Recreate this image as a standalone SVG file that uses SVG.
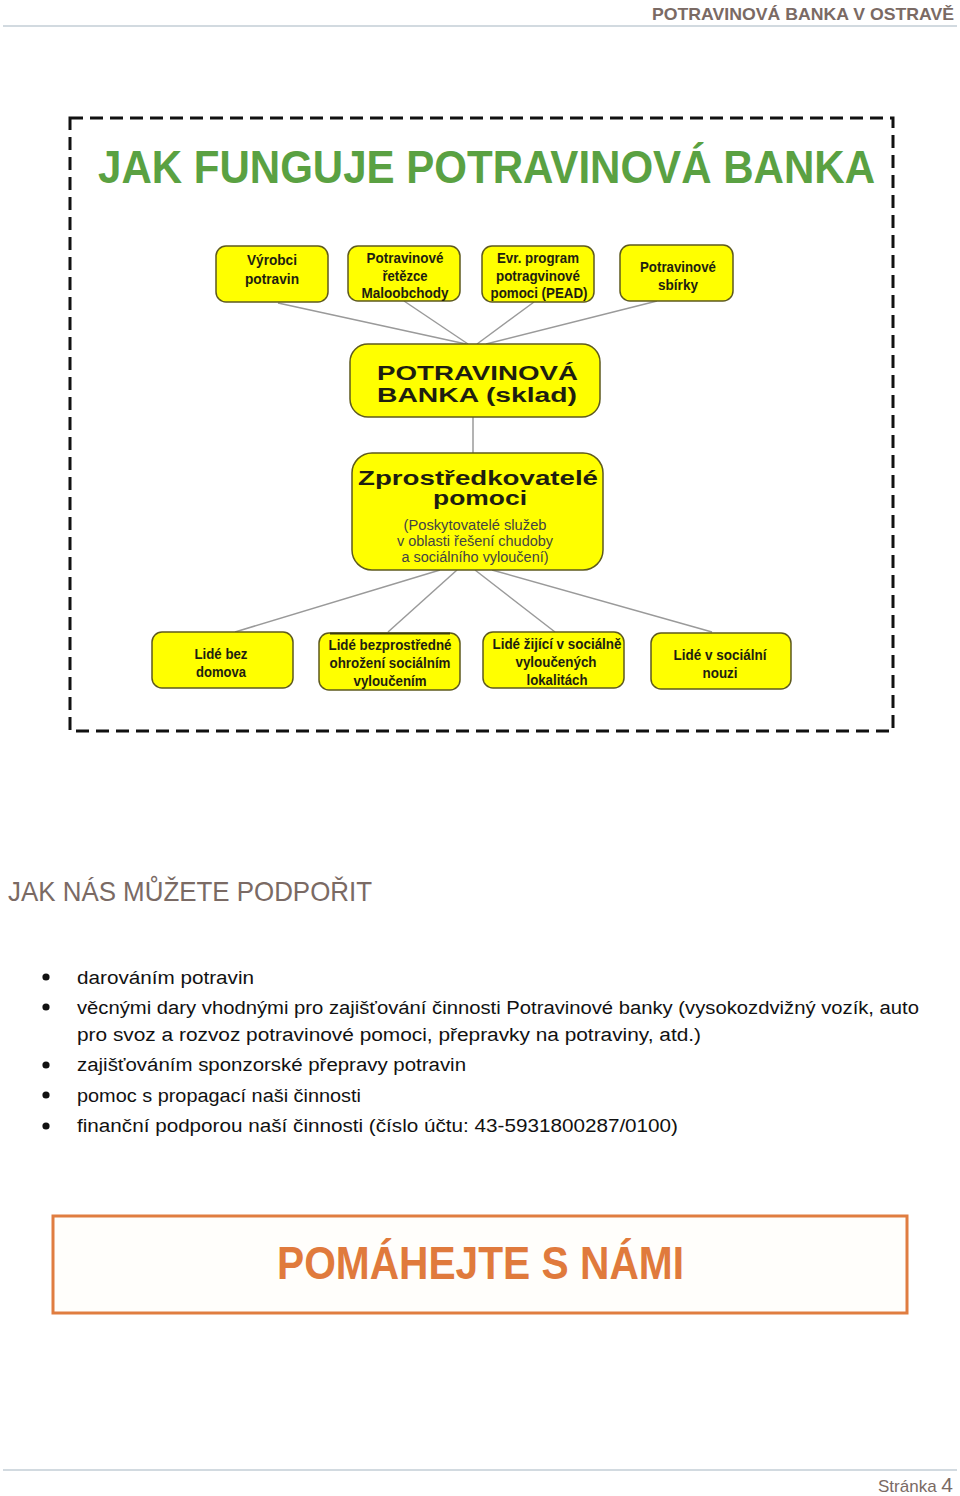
<svg xmlns="http://www.w3.org/2000/svg" width="960" height="1496" viewBox="0 0 960 1496">
<style>
.hdr{font-family:"Liberation Sans",Arial,sans-serif;fill:#7a6a64}
.box{fill:#ffff00;stroke:#5e5a1e;stroke-width:1.5}
.bt{font-family:"Liberation Sans",Arial,sans-serif;font-weight:bold;font-size:15px;fill:#1e1e10;text-anchor:middle}
.big{font-family:"Liberation Sans",Arial,sans-serif;font-weight:bold;font-size:20px;fill:#1e1e10}
.sub{font-family:"Liberation Sans",Arial,sans-serif;font-size:14px;fill:#444;text-anchor:middle}
.conn line{stroke:#9a9a9a;stroke-width:1.5}
.li{font-family:"Liberation Sans",Arial,sans-serif;font-size:18px;fill:#111}
</style>
<rect width="960" height="1496" fill="#ffffff"/>
<g id="header">
<text class="hdr" x="954" y="20" font-size="17" font-weight="bold" text-anchor="end" textLength="302" lengthAdjust="spacingAndGlyphs">POTRAVINOVÁ BANKA V OSTRAVĚ</text>
<line x1="3" y1="26" x2="957" y2="26" stroke="#c3ced6" stroke-width="1.5"/>
</g>
<g id="frame">
<rect x="70" y="118" width="823" height="613" fill="none" stroke="#111" stroke-width="3" stroke-dasharray="13 7"/>
<text x="98" y="183" font-family="Liberation Sans,Arial,sans-serif" font-weight="bold" font-size="46" fill="#5aa142" textLength="777" lengthAdjust="spacingAndGlyphs">JAK FUNGUJE POTRAVINOVÁ BANKA</text>
</g>
<g class="conn" id="connectors">
<line x1="278" y1="303" x2="466" y2="344"/>
<line x1="404" y1="301" x2="468" y2="344"/>
<line x1="534" y1="302" x2="477" y2="344"/>
<line x1="657" y1="301" x2="486" y2="344"/>
<line x1="473" y1="417" x2="473" y2="453"/>
<line x1="235" y1="632" x2="440" y2="570"/>
<line x1="388" y1="632" x2="457" y2="570"/>
<line x1="555" y1="632" x2="475" y2="570"/>
<line x1="712" y1="632" x2="492" y2="570"/>
</g>
<g id="n-vyrobci">
<rect class="box" x="216" y="246" width="112" height="56" rx="10"/>
<text class="bt" x="272" y="265" textLength="50" lengthAdjust="spacingAndGlyphs">Výrobci</text>
<text class="bt" x="272" y="284" textLength="54" lengthAdjust="spacingAndGlyphs">potravin</text>
</g>
<g id="n-retezce">
<rect class="box" x="348" y="246" width="112" height="55" rx="10"/>
<text class="bt" x="405" y="263" textLength="77" lengthAdjust="spacingAndGlyphs">Potravinové</text>
<text class="bt" x="405" y="281" textLength="45" lengthAdjust="spacingAndGlyphs">řetězce</text>
<text class="bt" x="405" y="298" textLength="87" lengthAdjust="spacingAndGlyphs">Maloobchody</text>
</g>
<g id="n-pead">
<rect class="box" x="482" y="246" width="112" height="56" rx="10"/>
<text class="bt" x="538" y="263" textLength="82" lengthAdjust="spacingAndGlyphs">Evr. program</text>
<text class="bt" x="538" y="281" textLength="84" lengthAdjust="spacingAndGlyphs">potragvinové</text>
<text class="bt" x="539" y="298" textLength="97" lengthAdjust="spacingAndGlyphs">pomoci (PEAD)</text>
</g>
<g id="n-sbirky">
<rect class="box" x="620" y="245" width="113" height="56" rx="10"/>
<text class="bt" x="678" y="272" textLength="76" lengthAdjust="spacingAndGlyphs">Potravinové</text>
<text class="bt" x="678" y="290" textLength="40" lengthAdjust="spacingAndGlyphs">sbírky</text>
</g>
<g id="n-banka">
<rect class="box" x="350" y="344" width="250" height="73" rx="18"/>
<text class="big" x="377" y="380" textLength="201" lengthAdjust="spacingAndGlyphs">POTRAVINOVÁ</text>
<text class="big" x="377" y="402" textLength="200" lengthAdjust="spacingAndGlyphs">BANKA (sklad)</text>
</g>
<g id="n-zprostredkovatele">
<rect class="box" x="352" y="453" width="251" height="117" rx="20"/>
<text class="big" x="358" y="485" textLength="240" lengthAdjust="spacingAndGlyphs">Zprostředkovatelé</text>
<text class="big" x="433" y="505" textLength="94" lengthAdjust="spacingAndGlyphs">pomoci</text>
<text class="sub" x="475" y="530" textLength="143" lengthAdjust="spacingAndGlyphs">(Poskytovatelé služeb</text>
<text class="sub" x="475" y="546" textLength="156" lengthAdjust="spacingAndGlyphs">v oblasti řešení chudoby</text>
<text class="sub" x="475" y="562" textLength="147" lengthAdjust="spacingAndGlyphs">a sociálního vyloučení)</text>
</g>
<g id="n-bezdomova">
<rect class="box" x="152" y="632" width="141" height="56" rx="10"/>
<text class="bt" x="221" y="659" textLength="53" lengthAdjust="spacingAndGlyphs">Lidé bez</text>
<text class="bt" x="221" y="677" textLength="50" lengthAdjust="spacingAndGlyphs">domova</text>
</g>
<g id="n-ohrozeni">
<rect class="box" x="319" y="633" width="141" height="57" rx="10"/>
<line x1="330" y1="633.5" x2="450" y2="633.5" stroke="#3a3a10" stroke-width="2"/>
<text class="bt" x="390" y="650" textLength="123" lengthAdjust="spacingAndGlyphs">Lidé bezprostředné</text>
<text class="bt" x="390" y="668" textLength="121" lengthAdjust="spacingAndGlyphs">ohrožení sociálním</text>
<text class="bt" x="390" y="686" textLength="73" lengthAdjust="spacingAndGlyphs">vyloučením</text>
</g>
<g id="n-lokality">
<rect class="box" x="483" y="632" width="141" height="56" rx="10"/>
<text class="bt" x="557" y="649" textLength="129" lengthAdjust="spacingAndGlyphs">Lidé žijící v sociálně</text>
<text class="bt" x="556" y="667" textLength="81" lengthAdjust="spacingAndGlyphs">vyloučených</text>
<text class="bt" x="557" y="685" textLength="61" lengthAdjust="spacingAndGlyphs">lokalitách</text>
</g>
<g id="n-nouze">
<rect class="box" x="651" y="633" width="140" height="56" rx="10"/>
<text class="bt" x="720" y="660" textLength="93" lengthAdjust="spacingAndGlyphs">Lidé v sociální</text>
<text class="bt" x="720" y="678" textLength="35" lengthAdjust="spacingAndGlyphs">nouzi</text>
</g>
<g id="support">
<text class="hdr" x="8" y="901" font-size="28" textLength="364" lengthAdjust="spacingAndGlyphs">JAK NÁS MŮŽETE PODPOŘIT</text>
<g fill="#111">
<circle cx="46" cy="977" r="3.6"/>
<circle cx="46" cy="1007" r="3.6"/>
<circle cx="46" cy="1065" r="3.6"/>
<circle cx="46" cy="1095" r="3.6"/>
<circle cx="46" cy="1126" r="3.6"/>
</g>
<text class="li" x="77" y="984" textLength="177" lengthAdjust="spacingAndGlyphs">darováním potravin</text>
<text class="li" x="77" y="1014" textLength="842" lengthAdjust="spacingAndGlyphs">věcnými dary vhodnými pro zajišťování činnosti Potravinové banky (vysokozdvižný vozík, auto</text>
<text class="li" x="77" y="1041" textLength="624" lengthAdjust="spacingAndGlyphs">pro svoz a rozvoz potravinové pomoci, přepravky na potraviny, atd.)</text>
<text class="li" x="77" y="1071" textLength="389" lengthAdjust="spacingAndGlyphs">zajišťováním sponzorské přepravy potravin</text>
<text class="li" x="77" y="1102" textLength="284" lengthAdjust="spacingAndGlyphs">pomoc s propagací naši činnosti</text>
<text class="li" x="77" y="1132" textLength="601" lengthAdjust="spacingAndGlyphs">finanční podporou naší činnosti (číslo účtu: 43-5931800287/0100)</text>
</g>
<g id="cta">
<rect x="53" y="1216" width="854" height="97" fill="#fffefb" stroke="#e07d40" stroke-width="3"/>
<text x="277" y="1279" font-family="Liberation Sans,Arial,sans-serif" font-weight="bold" font-size="46" fill="#e07a3c" textLength="407" lengthAdjust="spacingAndGlyphs">POMÁHEJTE S NÁMI</text>
</g>
<g id="footer">
<line x1="3" y1="1470" x2="957" y2="1470" stroke="#c3ced6" stroke-width="1.5"/>
<text class="hdr" x="953" y="1492" text-anchor="end" font-size="17">Stránka <tspan font-size="21">4</tspan></text>
</g>
</svg>
